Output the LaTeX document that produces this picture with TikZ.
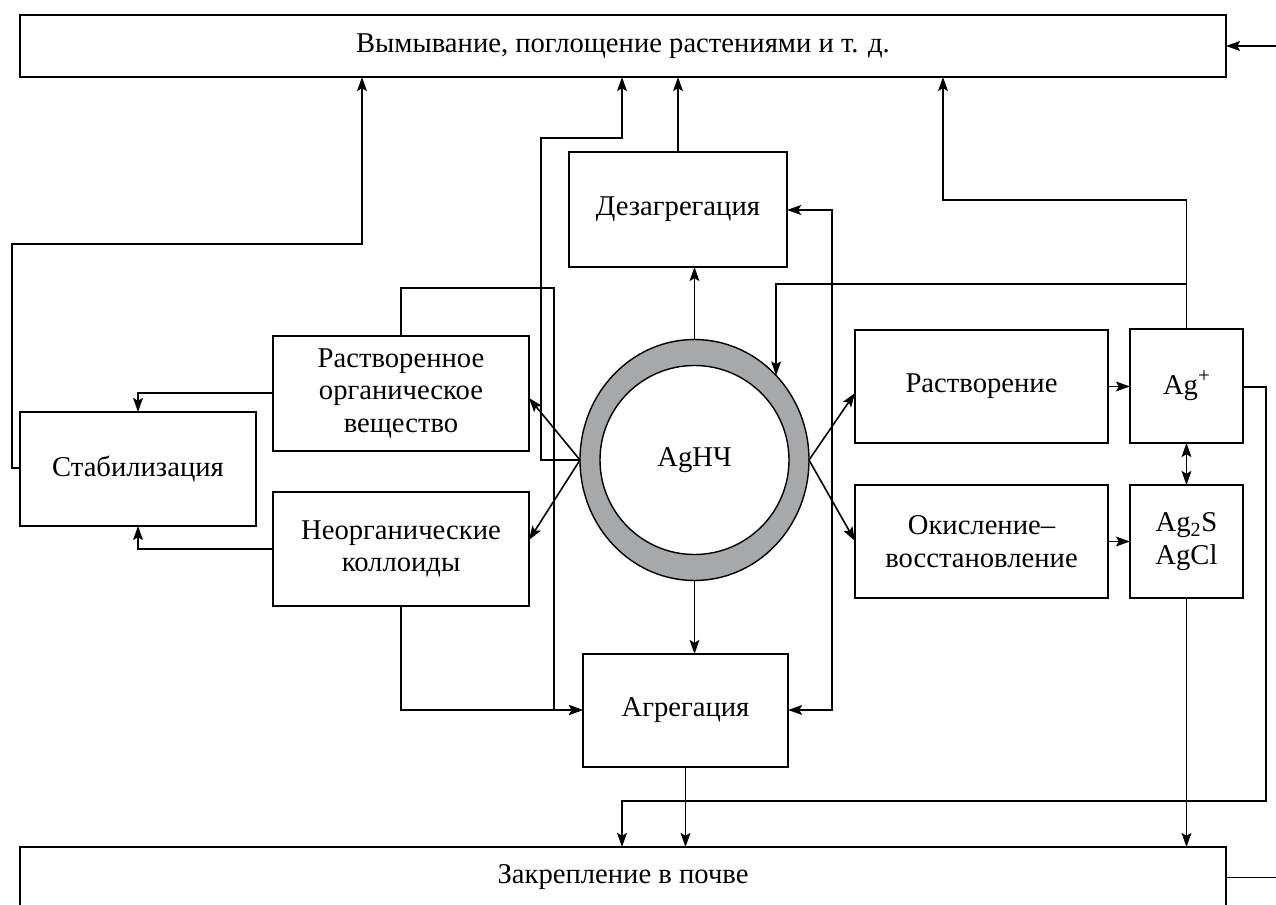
\documentclass[tikz,border=0pt]{standalone}
\usepackage{fontspec}
\setmainfont{Liberation Serif}
\usetikzlibrary{arrows.meta,shapes.geometric}
\definecolor{ringgray}{HTML}{A7A8AA}
\newcommand\fs{\fontsize{16.3}{18.4}\selectfont}
\newcommand\bx[6]{\node[box, minimum width={(#4-#2)*0.02cm}, minimum height={(#5-#3)*0.02cm}] (#1) at ({(#2+#4)/2},{(#3+#5)/2}) {#6};}
\begin{document}
\begin{tikzpicture}[x=0.02cm,y=-0.02cm,
  box/.style={draw, line width=0.9pt, inner sep=0pt, outer sep=0pt, align=center, font=\fs},
  ln/.style={line width=0.9pt},
  arr/.style={ln, -{Stealth[length=8pt,width=5.6pt,inset=1.6pt]}},
  darr/.style={ln, {Stealth[length=8pt,width=5.6pt,inset=1.6pt]}-{Stealth[length=8pt,width=5.6pt,inset=1.6pt]}}]
\useasboundingbox (0,0) rectangle (1276,905);

\bx{vym}{20}{15}{1226}{77}{Вымывание, поглощение растениями и т. д.}
\bx{zak}{20}{847}{1226}{908}{Закрепление в почве}
\bx{dez}{569}{152}{787}{267}{Дезагрегация}
\bx{rov}{273}{336}{529}{451}{Растворенное\\органическое\\вещество}
\bx{stab}{20}{412}{256}{526}{Стабилизация}
\bx{neo}{273}{492}{529}{606}{Неорганические\\коллоиды}
\bx{rast}{855}{330}{1108}{443}{Растворение}
\bx{okis}{855}{485}{1108}{598}{Окисление–\\восстановление}
\bx{agp}{1130}{329}{1243}{443}{Ag\raisebox{0.42em}{\fontsize{12}{12}\selectfont +}}
\bx{ags}{1130}{485}{1243}{598}{Ag\textsubscript{2}S\\AgCl}
\bx{agr}{583}{654}{788}{767}{Агрегация}

\node[draw, ellipse, fill=ringgray, line width=0.8pt, inner sep=0pt, outer sep=0pt,
  minimum width={229*0.02cm}, minimum height={241*0.02cm}] (np) at (694.5,460) {};
\node[draw, circle, fill=white, line width=0.8pt, inner sep=0pt, outer sep=0pt,
  minimum size={189*0.02cm}, font=\fs] (npi) at (694.5,460) {AgНЧ};

% inputs / outputs at the right margin
\coordinate (rin) at (1276,46);
\draw[arr] (rin) -- (vym.east);
\coordinate (rout) at (1276,877.5);
\draw[ln] (zak.east) -- (rout);

% nanoparticle to desaggregation / aggregation
\draw[arr] (np.north) -- (np.north |- dez.south);
\draw[arr] (dez.north) -- (dez.north |- vym.south);
\draw[arr] (np.south) -- (np.south |- agr.north);
\coordinate (a1) at (541,138); \coordinate (a2) at (622,138);
\draw[arr] (np.west) -| (a1) -- (a2) -- (a2 |- vym.south);

\draw[arr] (np.west) -- (rov.east |- 0,398);
\draw[arr] (np.west) -- (neo.east |- 0,540);
\draw[arr] (np.east) -- (rast.west |- 0,393);
\draw[arr] (np.east) -- (okis.west |- 0,541);

\coordinate (b1) at (832,210); \coordinate (b2) at (832,710);
\draw[darr] (dez.east |- b1) -- (b1) -- (b2) -- (agr.east |- b2);

\coordinate (c1) at (401,288); \coordinate (c2) at (554,288); \coordinate (c3) at (554,710);
\draw[arr] (rov.north -| c1) -- (c1) -- (c2) -- (c3) -- (agr.west |- c3);
\coordinate (c4) at (401,710);
\draw[arr] (neo.south -| c4) -- (c4) -- (agr.west |- c4);

\coordinate (s1) at (138,393);
\draw[arr] (rov.west |- s1) -- (s1) -- (stab.north -| s1);
\coordinate (s2) at (138,549);
\draw[arr] (neo.west |- s2) -- (s2) -- (stab.south -| s2);
\coordinate (t1) at (12,468); \coordinate (t2) at (12,244); \coordinate (t3) at (362,244);
\draw[arr] (stab.west |- t1) -- (t1) -- (t2) -- (t3) -- (t3 |- vym.south);

% silver ion chain
\draw[arr] (rast.east) -- (agp.west |- rast.east);
\draw[arr] (okis.east) -- (ags.west |- okis.east);
\draw[darr] (agp.south) -- (ags.north);
\coordinate (u1) at (1186.5,200); \coordinate (u2) at (943,200);
\draw[arr] (agp.north) -- (u1) -- (u2) -- (u2 |- vym.south);
\coordinate (v1) at (1186.5,284);
\draw[arr] (v1) -- (np.46.07 |- v1) -- (np.46.07);
\coordinate (w1) at (1266,387); \coordinate (w2) at (1266,801); \coordinate (w3) at (622,801);
\draw[arr] (agp.east |- w1) -- (w1) -- (w2) -- (w3) -- (w3 |- zak.north);
\draw[arr] (agr.south) -- (agr.south |- zak.north);
\draw[arr] (ags.south) -- (ags.south |- zak.north);
\end{tikzpicture}
\end{document}
